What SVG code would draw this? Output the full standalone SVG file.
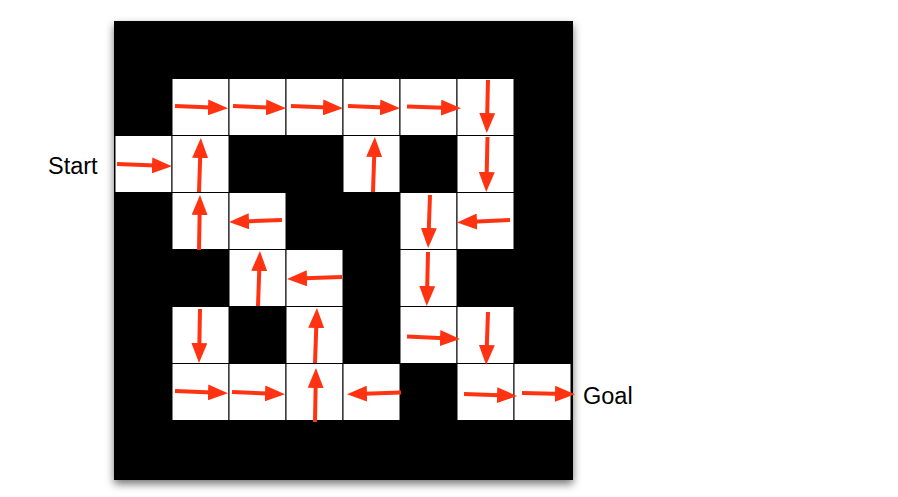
<svg xmlns="http://www.w3.org/2000/svg" width="898" height="497" viewBox="0 0 898 497">
<style>
.cell{fill:#fff;stroke:#000;stroke-width:1}
.arr{stroke:#ff3311;stroke-width:4;fill:none;marker-end:url(#ah)}
.lbl{font-family:"Liberation Sans",Arial,sans-serif;font-size:23.5px;fill:#000}
</style>
<defs>
<marker id="ah" markerUnits="userSpaceOnUse" markerWidth="20" markerHeight="16" refX="10" refY="8" orient="auto"><path d="M0,0 L20,8 L0,16 z" fill="#ff3311"/></marker>
<filter id="sh" x="-10%" y="-10%" width="120%" height="120%"><feDropShadow dx="0" dy="4" stdDeviation="4" flood-color="#000" flood-opacity="0.55"/></filter>
</defs>
<rect width="898" height="497" fill="#fff"/>
<g id="maze"><rect x="114" y="21" width="459" height="459" fill="#000" filter="url(#sh)"/></g>
<g id="cells">
<g id="r1c1"><rect class="cell" x="172" y="78.5" width="57" height="57"/></g>
<g id="r1c2"><rect class="cell" x="229" y="78.5" width="57" height="57"/></g>
<g id="r1c3"><rect class="cell" x="286" y="78.5" width="57" height="57"/></g>
<g id="r1c4"><rect class="cell" x="343" y="78.5" width="57" height="57"/></g>
<g id="r1c5"><rect class="cell" x="400" y="78.5" width="57" height="57"/></g>
<g id="r1c6"><rect class="cell" x="457" y="78.5" width="57" height="57"/></g>
<g id="r2c0"><rect class="cell" x="115" y="135.5" width="57" height="57"/></g>
<g id="r2c1"><rect class="cell" x="172" y="135.5" width="57" height="57"/></g>
<g id="r2c4"><rect class="cell" x="343" y="135.5" width="57" height="57"/></g>
<g id="r2c6"><rect class="cell" x="457" y="135.5" width="57" height="57"/></g>
<g id="r3c1"><rect class="cell" x="172" y="192.5" width="57" height="57"/></g>
<g id="r3c2"><rect class="cell" x="229" y="192.5" width="57" height="57"/></g>
<g id="r3c5"><rect class="cell" x="400" y="192.5" width="57" height="57"/></g>
<g id="r3c6"><rect class="cell" x="457" y="192.5" width="57" height="57"/></g>
<g id="r4c2"><rect class="cell" x="229" y="249.5" width="57" height="57"/></g>
<g id="r4c3"><rect class="cell" x="286" y="249.5" width="57" height="57"/></g>
<g id="r4c5"><rect class="cell" x="400" y="249.5" width="57" height="57"/></g>
<g id="r5c1"><rect class="cell" x="172" y="306.5" width="57" height="57"/></g>
<g id="r5c3"><rect class="cell" x="286" y="306.5" width="57" height="57"/></g>
<g id="r5c5"><rect class="cell" x="400" y="306.5" width="57" height="57"/></g>
<g id="r5c6"><rect class="cell" x="457" y="306.5" width="57" height="57"/></g>
<g id="r6c1"><rect class="cell" x="172" y="363.5" width="57" height="57"/></g>
<g id="r6c2"><rect class="cell" x="229" y="363.5" width="57" height="57"/></g>
<g id="r6c3"><rect class="cell" x="286" y="363.5" width="57" height="57"/></g>
<g id="r6c4"><rect class="cell" x="343" y="363.5" width="57" height="57"/></g>
<g id="r6c6"><rect class="cell" x="457" y="363.5" width="57" height="57"/></g>
<g id="r6c7"><rect class="cell" x="514" y="363.5" width="57" height="57"/></g>
</g>
<g id="connectors">
<line class="arr" x1="175" y1="106" x2="218" y2="107.8"/>
<line class="arr" x1="233" y1="106" x2="276" y2="107.8"/>
<line class="arr" x1="291" y1="106" x2="333" y2="107.8"/>
<line class="arr" x1="348" y1="106" x2="390" y2="107.8"/>
<line class="arr" x1="407" y1="106.5" x2="451" y2="108"/>
<line class="arr" x1="488" y1="80" x2="487" y2="123"/>
<line class="arr" x1="117" y1="164" x2="162" y2="165.8"/>
<line class="arr" x1="199" y1="192" x2="200.5" y2="148"/>
<line class="arr" x1="373" y1="192" x2="374.5" y2="147"/>
<line class="arr" x1="487.5" y1="137" x2="486.5" y2="182"/>
<line class="arr" x1="199" y1="250" x2="199.8" y2="205"/>
<line class="arr" x1="282" y1="220" x2="239" y2="221.7"/>
<line class="arr" x1="430" y1="195" x2="428.5" y2="238"/>
<line class="arr" x1="510" y1="220" x2="467" y2="222"/>
<line class="arr" x1="258" y1="306" x2="259.6" y2="261"/>
<line class="arr" x1="342" y1="277" x2="297" y2="278.6"/>
<line class="arr" x1="428" y1="252" x2="427" y2="296"/>
<line class="arr" x1="200" y1="309" x2="199.2" y2="353"/>
<line class="arr" x1="315" y1="363" x2="316.6" y2="318"/>
<line class="arr" x1="407" y1="336.5" x2="450" y2="338.5"/>
<line class="arr" x1="488" y1="312" x2="486.5" y2="355"/>
<line class="arr" x1="175" y1="391" x2="218" y2="392.8"/>
<line class="arr" x1="232" y1="392" x2="275" y2="393.8"/>
<line class="arr" x1="315" y1="422" x2="315.8" y2="378"/>
<line class="arr" x1="401" y1="392.5" x2="357" y2="394"/>
<line class="arr" x1="464" y1="394" x2="507" y2="395.6"/>
<line class="arr" x1="522" y1="393" x2="565" y2="394"/>
</g>
<text class="lbl" x="48" y="174">Start</text>
<text class="lbl" x="583" y="404">Goal</text>
</svg>
